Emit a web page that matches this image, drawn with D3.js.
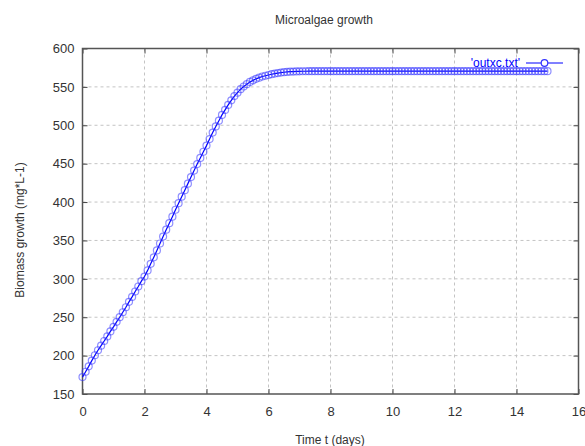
<!DOCTYPE html>
<meta charset="utf-8">
<html>
<head>
<style>
  body { margin:0; background:#fff; }
  svg { display:block; }
  text { font-family: "Liberation Sans", Arial, sans-serif; fill:#333; }
</style>
<script src="https://d3js.org/d3.v7.min.js"></script>
</head>
<body>
<svg width="585" height="446"></svg>
<script>
// biomass, one point every 0.1 day from t=0 to t=15
var times = d3.range(0, 151).map(i => i / 10);
var biomass = [
  172, 179, 186, 193.5, 200.5, 207, 213, 219, 225, 231.5,
  237.5, 244, 250, 256.5, 263, 270, 276.5, 283.5, 290, 297,
  303, 311, 319.5, 328, 337, 346, 355, 364, 372.5, 381,
  390, 398.5, 407, 415.5, 424, 432.5, 441, 449.5, 457.5, 465.5,
  473.5, 482, 490.5, 498.5, 506, 513.5, 520, 526.5, 532.5, 538,
  542.5, 547, 550.5, 553.5, 556.5, 558.5, 560.5, 562, 563.5, 564.5,
  565.5, 566.5, 567.3, 568, 568.6, 569.1, 569.5, 569.8, 570, 570.2,
  570.3, 570.4, 570.4, 570.5, 570.5, 570.5, 570.5, 570.5, 570.5, 570.5,
  570.5, 570.5, 570.5, 570.5, 570.5, 570.5, 570.5, 570.5, 570.5, 570.5,
  570.5, 570.5, 570.5, 570.5, 570.5, 570.5, 570.5, 570.5, 570.5, 570.5,
  570.5, 570.5, 570.5, 570.5, 570.5, 570.5, 570.5, 570.5, 570.5, 570.5,
  570.5, 570.5, 570.5, 570.5, 570.5, 570.5, 570.5, 570.5, 570.5, 570.5,
  570.5, 570.5, 570.5, 570.5, 570.5, 570.5, 570.5, 570.5, 570.5, 570.5,
  570.5, 570.5, 570.5, 570.5, 570.5, 570.5, 570.5, 570.5, 570.5, 570.5,
  570.5, 570.5, 570.5, 570.5, 570.5, 570.5, 570.5, 570.5, 570.5, 570.5,
  570.5
];
var xTicks = [0, 2, 4, 6, 8, 10, 12, 14, 16];
var yTicks = [150, 200, 250, 300, 350, 400, 450, 500, 550, 600];

var data = times.map((t, i) => ({t: t, v: biomass[i]}));

var plot = {left: 82.5, right: 578.5, top: 48.5, bottom: 394};

var x = d3.scaleLinear().domain([0, 16]).range([plot.left, plot.right]);
var y = d3.scaleLinear().domain([150, 600]).range([plot.bottom, plot.top]);

var svg = d3.select("svg");

// grid
svg.append("g").selectAll("line")
    .data(xTicks.slice(1, -1))
    .enter().append("line")
    .attr("x1", d => x(d)).attr("x2", d => x(d))
    .attr("y1", plot.top).attr("y2", plot.bottom)
    .attr("stroke", "#c4c4c4").attr("stroke-dasharray", "3,3");
svg.append("g").selectAll("line")
    .data(yTicks.slice(1, -1))
    .enter().append("line")
    .attr("x1", plot.left).attr("x2", plot.right)
    .attr("y1", d => y(d)).attr("y2", d => y(d))
    .attr("stroke", "#c4c4c4").attr("stroke-dasharray", "3,3");

// axes with inward ticks, mirrored on top and right
var tickStyle = g => {
  g.select(".domain").remove();
  g.selectAll("line").attr("stroke", "#444");
  g.selectAll("text").style("font-size", "13px").attr("fill", "#333");
};
svg.append("g")
    .attr("transform", "translate(0," + plot.bottom + ")")
    .call(d3.axisBottom(x).tickValues(xTicks).tickSize(-5).tickPadding(13))
    .call(tickStyle);
svg.append("g")
    .attr("transform", "translate(0," + plot.top + ")")
    .call(d3.axisTop(x).tickValues(xTicks).tickSize(-5).tickFormat(""))
    .call(tickStyle);
svg.append("g")
    .attr("transform", "translate(" + plot.left + ",0)")
    .call(d3.axisLeft(y).tickValues(yTicks).tickSize(-5).tickPadding(8))
    .call(tickStyle);
svg.append("g")
    .attr("transform", "translate(" + plot.right + ",0)")
    .call(d3.axisRight(y).tickValues(yTicks).tickSize(-5).tickFormat(""))
    .call(tickStyle);

svg.append("rect")
    .attr("x", plot.left).attr("y", plot.top)
    .attr("width", plot.right - plot.left).attr("height", plot.bottom - plot.top)
    .attr("fill", "none").attr("stroke", "#555").attr("stroke-width", 1.5);

// series
var line = d3.line().x(d => x(d.t)).y(d => y(d.v));
svg.append("path")
    .datum(data)
    .attr("d", line)
    .attr("fill", "none")
    .attr("stroke", "#0000ff")
    .attr("stroke-width", 1.2);

svg.append("g").selectAll("circle")
    .data(data)
    .enter().append("circle")
    .attr("cx", d => x(d.t))
    .attr("cy", d => y(d.v))
    .attr("r", 3.5)
    .attr("fill", "none")
    .attr("stroke", "#3333ff")
    .attr("stroke-opacity", 0.55)
    .attr("stroke-width", 1.2);

// legend
svg.append("text")
    .attr("x", 520).attr("y", 67)
    .style("text-anchor", "end")
    .style("font-size", "12px")
    .style("fill", "#0000ff")
    .text("'outxc.txt'");
svg.append("line")
    .attr("x1", 526).attr("x2", 563)
    .attr("y1", 63).attr("y2", 63)
    .attr("stroke", "#0000ff");
svg.append("circle")
    .attr("cx", 544.5).attr("cy", 63).attr("r", 3.3)
    .attr("fill", "#fff").attr("stroke", "#3333ff").attr("stroke-width", 1.2);

// titles
svg.append("text")
    .attr("x", 324).attr("y", 24)
    .style("text-anchor", "middle")
    .style("font-size", "12px")
    .text("Microalgae growth");
svg.append("text")
    .attr("x", 330).attr("y", 444)
    .style("text-anchor", "middle")
    .style("font-size", "12px")
    .text("Time t (days)");
svg.append("text")
    .attr("transform", "translate(24,230) rotate(-90)")
    .style("text-anchor", "middle")
    .style("font-size", "12px")
    .text("Biomass growth (mg*L-1)");
</script>
</body>
</html>
